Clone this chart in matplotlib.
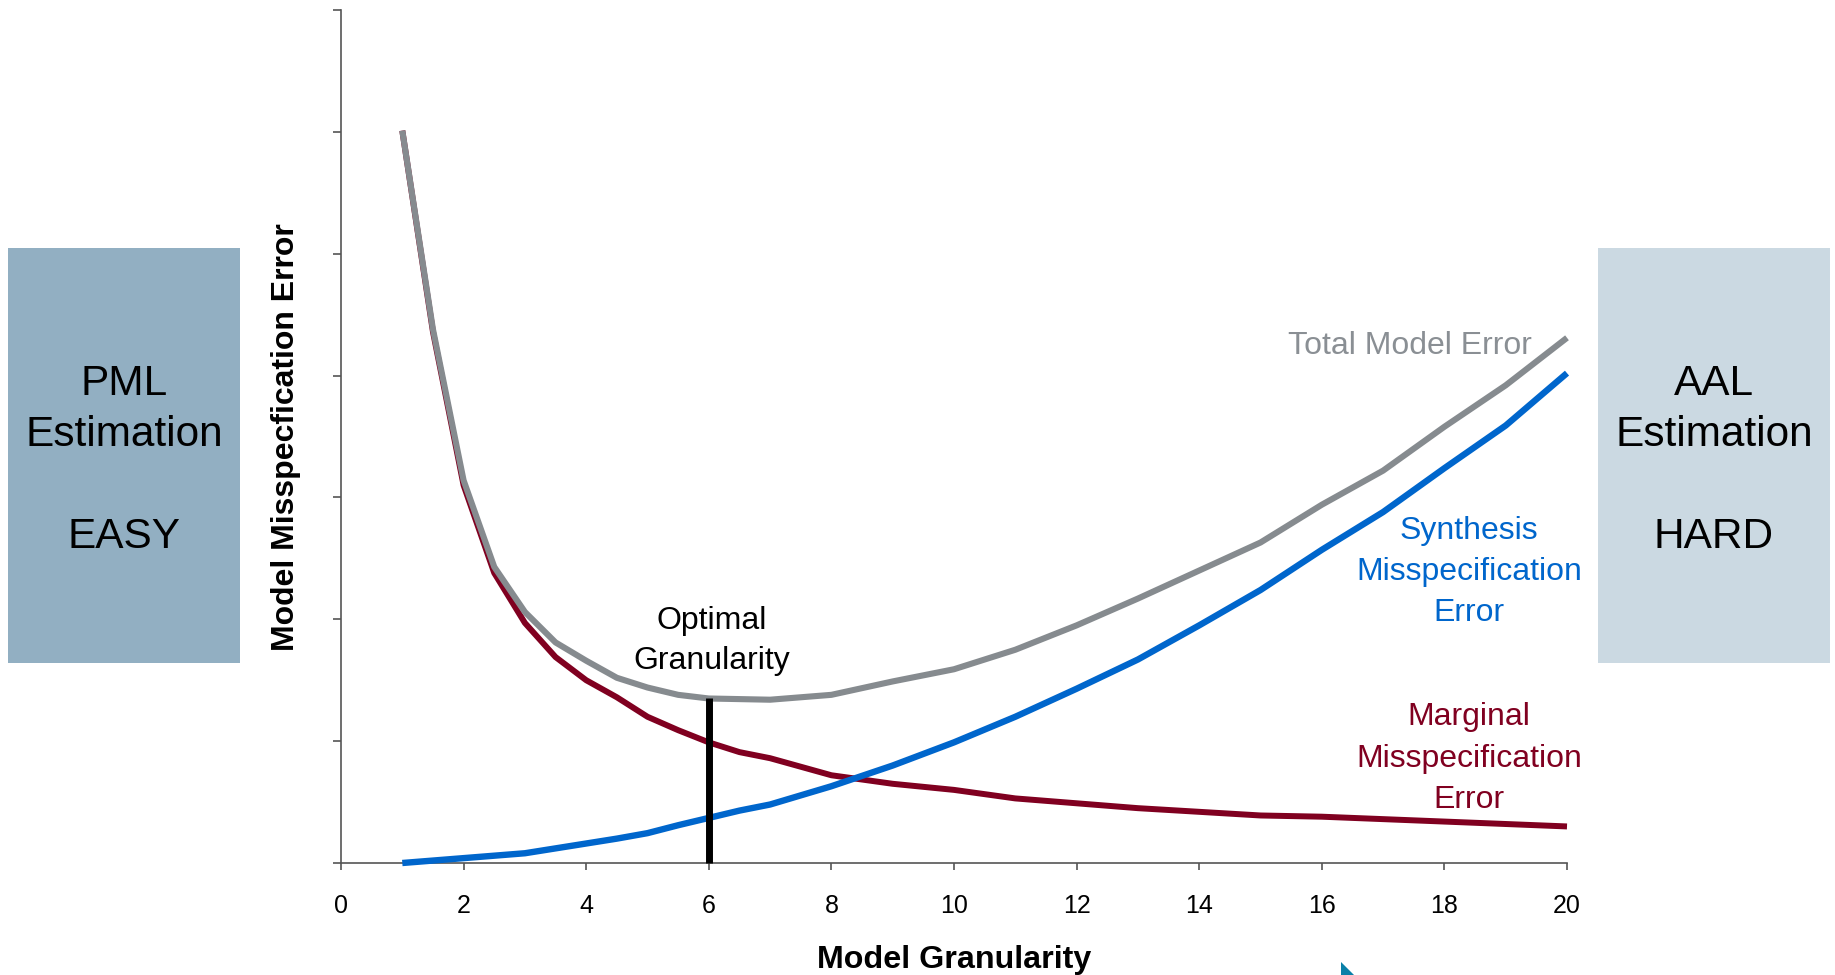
import matplotlib.pyplot as plt
from matplotlib.patches import Rectangle, Polygon

plt.rcParams['font.family'] = ['Liberation Sans', 'DejaVu Sans']

# Curves
granularity = [1, 1.5, 2, 2.5, 3, 3.5, 4, 4.5, 5, 5.5, 6, 6.5, 7, 8, 9, 10,
               11, 12, 13, 14, 15, 16, 17, 18, 19, 20]
total_error = [6.01, 4.38, 3.14, 2.43, 2.06, 1.81, 1.66, 1.52, 1.44, 1.38,
               1.35, 1.345, 1.34, 1.38, 1.49, 1.59, 1.75, 1.95, 2.17, 2.40,
               2.63, 2.94, 3.22, 3.58, 3.92, 4.31]
marginal_error = [6.01, 4.36, 3.10, 2.38, 1.97, 1.69, 1.50, 1.36, 1.20, 1.09,
                  0.99, 0.91, 0.86, 0.72, 0.65, 0.60, 0.53, 0.49, 0.45, 0.42,
                  0.39, 0.38, 0.36, 0.34, 0.32, 0.30]
synthesis_error = [0.0, 0.02, 0.04, 0.06, 0.08, 0.12, 0.16, 0.20, 0.245, 0.31,
                   0.37, 0.43, 0.48, 0.63, 0.80, 0.99, 1.20, 1.43, 1.67, 1.95,
                   2.24, 2.57, 2.88, 3.24, 3.59, 4.02]
optimal_x = 6
x_ticks = list(range(0, 21, 2))
y_ticks = list(range(0, 8))

W, H = 1835, 975
GRAY = '#868b8f'
BLUE = '#0066cc'
RED = '#800020'


def fx(x):
    return x / W


def fy(y):
    return 1 - y / H


fig = plt.figure(figsize=(W / 100, H / 100), dpi=100)
ax = fig.add_axes([fx(341), fy(863), fx(1567 - 341), (863 - 10) / H])

ax.plot(granularity, marginal_error, color=RED, lw=4.3, zorder=2,
        solid_capstyle='butt', clip_on=False)
ax.plot(granularity, synthesis_error, color=BLUE, lw=4.6, zorder=3,
        solid_capstyle='butt', clip_on=False)
ax.plot(granularity, total_error, color=GRAY, lw=4.4, zorder=4,
        solid_capstyle='butt', clip_on=False)
opt_top = total_error[granularity.index(optimal_x)]
ax.plot([optimal_x, optimal_x], [0, opt_top], color='black', lw=5, zorder=5,
        solid_capstyle='butt', clip_on=False)

ax.set_xlim(0, 20)
ax.set_ylim(0, 7)
ax.set_xticks(x_ticks)
ax.set_yticks(y_ticks)
ax.set_yticklabels([])
for s in ['top', 'right']:
    ax.spines[s].set_visible(False)
for s in ['left', 'bottom']:
    ax.spines[s].set_color('#555555')
    ax.spines[s].set_linewidth(1.2)
ax.tick_params(axis='x', direction='out', length=5, width=1.2, color='#555555',
               labelsize=18, pad=17)
ax.tick_params(axis='y', direction='out', length=5.8, width=1.2, color='#555555')

# axis titles
fig.text(fx(954), fy(968), 'Model Granularity', ha='center', va='baseline',
         fontsize=23.2, fontweight='bold')
fig.text(fx(286), fy(437), 'Model Misspecfication Error', ha='center', va='center',
         rotation=90, fontsize=23, fontweight='bold')

# curve annotations (baselines in pixels)
fig.text(fx(1410), fy(354), 'Total Model Error', ha='center', va='baseline',
         fontsize=23, color='#8a8f94')
for text, base in zip(['Synthesis', 'Misspecification', 'Error'], [539, 580, 621]):
    fig.text(fx(1469), fy(base), text, ha='center', va='baseline', fontsize=23, color=BLUE)
for text, base in zip(['Marginal', 'Misspecification', 'Error'], [725, 767, 808]):
    fig.text(fx(1469), fy(base), text, ha='center', va='baseline', fontsize=23, color=RED)
for text, base in zip(['Optimal', 'Granularity'], [629, 669]):
    fig.text(fx(712), fy(base), text, ha='center', va='baseline', fontsize=23, color='black')

# side boxes
fig.patches.append(Rectangle((fx(8), fy(663)), fx(232), (663 - 248) / H,
                             transform=fig.transFigure, facecolor='#92afc2',
                             edgecolor='none', zorder=0))
fig.patches.append(Rectangle((fx(1598), fy(663)), fx(232), (663 - 248) / H,
                             transform=fig.transFigure, facecolor='#cbd9e2',
                             edgecolor='none', zorder=0))
for text, base in zip(['PML', 'Estimation', 'EASY'], [395, 446, 548]):
    fig.text(fx(124), fy(base), text, ha='center', va='baseline', fontsize=30.5)
for text, base in zip(['AAL', 'Estimation', 'HARD'], [395, 446, 548]):
    fig.text(fx(1714), fy(base), text, ha='center', va='baseline', fontsize=30.5)

# small cut-off arrow tip at the bottom edge
fig.patches.append(Polygon([(fx(1341), fy(962)), (fx(1341), fy(975)), (fx(1354), fy(975))],
                           closed=True, transform=fig.transFigure,
                           facecolor='#0a80a8', edgecolor='none'))

fig.savefig('out.png', dpi=100)
